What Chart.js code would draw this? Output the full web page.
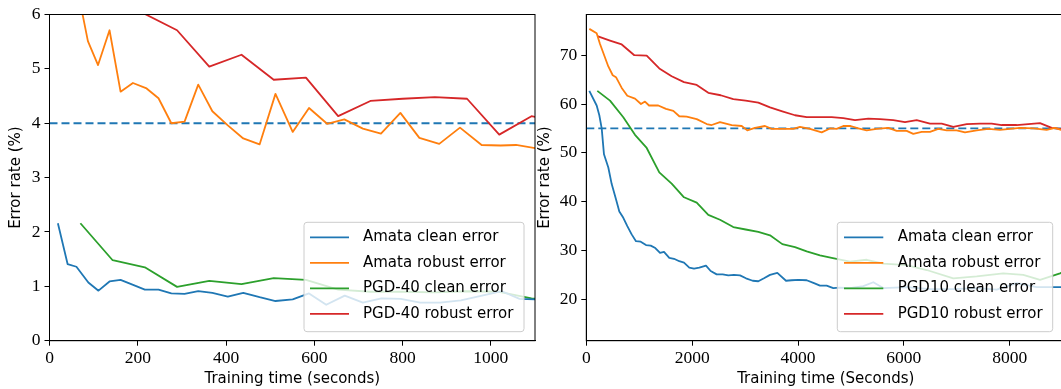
<!DOCTYPE html>
<html>
<head>
<meta charset="utf-8">
<script src="https://cdn.jsdelivr.net/npm/chart.js@4.4.1/dist/chart.umd.min.js"></script>
<style>
  html, body { margin: 0; padding: 0; background: #fff; }
  body { width: 1061px; height: 389px; overflow: hidden; position: relative; }
  canvas { position: absolute; top: 0; }
  #left { left: 0; }
  #right { left: 530px; }
</style>
</head>
<body>
<canvas id="left" width="545" height="389"></canvas>
<canvas id="right" width="560" height="389"></canvas>
<script>
// ---- left panel: training time (s) vs error rate (%) ----
const leftAmataCleanT = [19, 41, 61, 88, 111, 136, 161, 188, 216, 247, 276, 306, 337, 369, 404, 439, 476, 512, 551, 588, 627, 669, 710, 752, 796, 840, 885, 932, 980, 1025, 1065, 1102];
const leftAmataCleanErr = [2.16, 1.41, 1.36, 1.07, 0.92, 1.09, 1.12, 1.03, 0.94, 0.94, 0.87, 0.86, 0.91, 0.88, 0.81, 0.88, 0.80, 0.73, 0.76, 0.87, 0.66, 0.83, 0.70, 0.78, 0.77, 0.70, 0.70, 0.74, 0.83, 0.91, 0.77, 0.76];

const leftAmataRobustT = [19, 41, 61, 87, 110, 136, 161, 189, 220, 247, 276, 306, 337, 369, 404, 439, 476, 512, 551, 588, 629, 668, 710, 751, 795, 838, 883, 930, 979, 1022, 1057, 1102];
const leftAmataRobustErr = [9.0, 7.6, 6.57, 5.51, 5.07, 5.71, 4.58, 4.74, 4.64, 4.46, 4.0, 4.03, 4.71, 4.22, 3.96, 3.72, 3.61, 4.54, 3.84, 4.28, 3.99, 4.07, 3.90, 3.81, 4.19, 3.73, 3.62, 3.92, 3.60, 3.59, 3.60, 3.54];

const leftPgdT = [70, 143, 216, 289, 362, 435, 508, 581, 654, 727, 800, 873, 946, 1019, 1092, 1165];
const leftPgdCleanErr = [2.16, 1.48, 1.35, 0.99, 1.10, 1.04, 1.15, 1.12, 0.94, 0.90, 0.90, 0.89, 0.91, 0.90, 0.78, 0.72];
const leftPgdRobustErr = [8.0, 6.7, 6.01, 5.71, 5.04, 5.26, 4.80, 4.84, 4.13, 4.41, 4.45, 4.48, 4.45, 3.79, 4.13, 4.0];

const leftTarget = 4;
const leftXRange = [0, 1100];
const leftYRange = [0, 6];
const leftXTicks = [0, 200, 400, 600, 800, 1000];
const leftYTicks = [0, 1, 2, 3, 4, 5, 6];
const leftLabels = ['Amata clean error', 'Amata robust error', 'PGD-40 clean error', 'PGD-40 robust error'];

// ---- right panel ----
const rightAmataCleanT = [57, 196, 246, 291, 334, 416, 480, 561, 624, 699, 775, 857, 939, 1028, 1128, 1217, 1304, 1393, 1468, 1568, 1657, 1757, 1846, 1946, 2035, 2135, 2261, 2350, 2463, 2577, 2683, 2790, 2904, 3017, 3144, 3250, 3357, 3471, 3609, 3773, 3880, 4005, 4164, 4302, 4415, 4541, 4667, 4780, 4982, 5234, 5422, 5611, 6053, 6494, 6934, 7376, 7754, 8131, 8509, 8950, 9100];
const rightAmataCleanErr = [62.7, 59.7, 57.7, 55.0, 49.7, 47.0, 43.6, 40.5, 38.0, 36.7, 35.0, 33.3, 31.9, 31.8, 31.1, 31.0, 30.5, 29.5, 29.7, 28.5, 28.3, 27.8, 27.5, 26.5, 26.3, 26.5, 26.9, 25.8, 25.1, 25.1, 24.9, 25.0, 24.9, 24.3, 23.8, 23.7, 24.3, 25.0, 25.4, 23.8, 23.9, 24.0, 23.9, 23.3, 22.8, 22.8, 22.3, 22.4, 22.3, 22.7, 23.5, 22.3, 22.5, 22.1, 22.1, 22.3, 22.0, 23.3, 22.5, 22.5, 22.4];

const rightAmataRobustT = [57, 196, 259, 416, 499, 561, 669, 775, 920, 1033, 1109, 1185, 1360, 1506, 1644, 1757, 1897, 2086, 2275, 2369, 2526, 2747, 2936, 3042, 3187, 3376, 3502, 3722, 3911, 4037, 4226, 4447, 4604, 4730, 4856, 4995, 5139, 5297, 5486, 5706, 5864, 6053, 6178, 6337, 6494, 6650, 6809, 6998, 7155, 7376, 7595, 7816, 8005, 8194, 8446, 8698, 8855, 8969, 9100];
const rightAmataRobustErr = [75.4, 74.5, 72.3, 67.7, 65.9, 65.5, 63.3, 61.7, 61.1, 60.0, 60.5, 59.7, 59.7, 59.0, 58.6, 57.5, 57.4, 56.9, 55.9, 55.7, 56.3, 55.7, 55.5, 54.6, 55.1, 55.5, 54.9, 54.9, 54.9, 55.3, 54.9, 54.2, 55.0, 54.9, 55.5, 55.5, 55.0, 54.6, 54.9, 55.1, 54.5, 54.5, 53.9, 54.3, 54.3, 54.9, 54.6, 54.6, 54.2, 54.6, 54.9, 54.7, 54.9, 55.1, 55.0, 54.7, 55.1, 54.7, 54.5];

const rightPgdCleanT = [208, 448, 699, 920, 1141, 1379, 1613, 1846, 2086, 2305, 2526, 2777, 3011, 3250, 3471, 3703, 3943, 4164, 4415, 4636, 4982, 5297, 5611, 6053, 6431, 6934, 7376, 7878, 8256, 8572, 8950, 9100];
const rightPgdCleanErr = [62.7, 60.7, 57.3, 53.7, 51.0, 46.0, 43.7, 40.9, 39.8, 37.3, 36.3, 34.8, 34.3, 33.8, 33.1, 31.3, 30.7, 29.8, 29.0, 28.5, 27.7, 28.1, 27.3, 27.0, 26.0, 24.3, 24.7, 25.3, 25.0, 24.0, 25.3, 26.0];

const rightPgdRobustT = [208, 448, 669, 907, 1141, 1379, 1613, 1846, 2086, 2305, 2539, 2777, 3011, 3250, 3471, 3703, 3943, 4164, 4400, 4636, 4856, 5077, 5328, 5549, 5800, 6021, 6242, 6494, 6715, 6934, 7187, 7438, 7659, 7848, 8131, 8351, 8572, 8793, 9030];
const rightPgdRobustErr = [73.9, 73.0, 72.2, 70.0, 69.9, 67.3, 65.7, 64.5, 63.9, 62.3, 61.8, 61.0, 60.7, 60.3, 59.3, 58.5, 57.7, 57.3, 57.3, 57.3, 57.1, 56.7, 57.0, 56.9, 56.7, 56.3, 56.7, 56.0, 56.0, 55.3, 55.9, 56.0, 56.0, 55.7, 55.7, 55.9, 56.1, 55.1, 54.8];

const rightTarget = 55;
const rightXRange = [0, 9050];
const rightYRange = [11.52, 78.34];
const rightXTicks = [0, 2000, 4000, 6000, 8000];
const rightYTicks = [20, 30, 40, 50, 60, 70];
const rightLabels = ['Amata clean error', 'Amata robust error', 'PGD10 clean error', 'PGD10 robust error'];

const COLORS = ['#1f77b4', '#ff7f0e', '#2ca02c', '#d62728'];
const tickFont = { family: '"Liberation Serif", "DejaVu Serif", serif', size: 17.5 };
const labelFont = { family: '"DejaVu Sans", sans-serif', size: 15 };

function pairs(xs, ys) {
    return xs.map((x, i) => ({ x: x, y: ys[i] }));
}

function lineSet(label, color, xs, ys) {
    return {
        label: label,
        data: pairs(xs, ys),
        borderColor: color,
        borderWidth: 1.8,
        pointRadius: 0,
        tension: 0,
        borderJoinStyle: 'round'
    };
}

// matplotlib style frame + lower-right legend
const framePlugin = {
    id: 'frame',
    afterDraw(chart, args, opts) {
        const ctx = chart.ctx;
        const a = chart.chartArea;
        ctx.save();
        ctx.strokeStyle = '#000';
        ctx.lineWidth = 1;
        ctx.strokeRect(a.left, a.top, a.right - a.left, a.bottom - a.top);

        // legend box
        const b = opts.box;
        ctx.beginPath();
        ctx.roundRect(b.x, b.y, b.w, b.h, 3);
        ctx.fillStyle = 'rgba(255,255,255,0.8)';
        ctx.fill();
        ctx.strokeStyle = '#cccccc';
        ctx.stroke();

        ctx.font = labelFont.size + 'px ' + labelFont.family;
        ctx.textBaseline = 'middle';
        ctx.textAlign = 'left';
        const items = chart.data.datasets.filter(d => d.label);
        items.forEach((d, i) => {
            const y = b.y + opts.firstRow + i * opts.rowGap;
            ctx.beginPath();
            ctx.moveTo(opts.handle[0], y);
            ctx.lineTo(opts.handle[1], y);
            ctx.strokeStyle = d.borderColor;
            ctx.lineWidth = 1.8;
            ctx.stroke();
            ctx.fillStyle = '#000';
            ctx.fillText(d.label, opts.textX, y);
        });
        ctx.restore();
    }
};

function fixedTicks(values) {
    return function(scale) {
        scale.ticks = values.map(v => ({ value: v }));
    };
}

function makeChart(id, cfg) {
    const ctx = document.getElementById(id).getContext('2d');
    return new Chart(ctx, {
        type: 'line',
        data: {
            datasets: [
                lineSet(cfg.labels[0], COLORS[0], cfg.series[0][0], cfg.series[0][1]),
                lineSet(cfg.labels[1], COLORS[1], cfg.series[1][0], cfg.series[1][1]),
                lineSet(cfg.labels[2], COLORS[2], cfg.series[2][0], cfg.series[2][1]),
                lineSet(cfg.labels[3], COLORS[3], cfg.series[3][0], cfg.series[3][1]),
                {
                    label: '',
                    data: pairs(cfg.xRange, [cfg.target, cfg.target]),
                    borderColor: COLORS[0],
                    borderWidth: 1.8,
                    borderDash: [8, 4],
                    pointRadius: 0
                }
            ]
        },
        options: {
            responsive: false,
            animation: false,
            devicePixelRatio: 1,
            layout: { padding: cfg.padding },
            plugins: {
                legend: { display: false },
                tooltip: { enabled: false },
                frame: cfg.legend
            },
            scales: {
                x: {
                    type: 'linear',
                    min: cfg.xRange[0],
                    max: cfg.xRange[1],
                    afterBuildTicks: fixedTicks(cfg.xTicks),
                    ticks: {
                        maxRotation: 0,
                        autoSkip: false,
                        color: '#000',
                        font: tickFont,
                        padding: 2,
                        callback: v => String(v)
                    },
                    grid: { drawOnChartArea: false, drawTicks: true, tickLength: 5, color: '#000' },
                    border: { color: '#000', width: 1 },
                    title: {
                        display: true,
                        text: cfg.xTitle,
                        color: '#000',
                        font: labelFont,
                        padding: { top: 0, bottom: 1 }
                    },
                    afterFit(scale) { scale.height = cfg.xAxisHeight; }
                },
                y: {
                    min: cfg.yRange[0],
                    max: cfg.yRange[1],
                    afterBuildTicks: fixedTicks(cfg.yTicks),
                    ticks: {
                        color: '#000',
                        font: tickFont,
                        padding: 4,
                        callback: v => String(v)
                    },
                    grid: { drawOnChartArea: false, drawTicks: true, tickLength: 5, color: '#000' },
                    border: { color: '#000', width: 1 },
                    title: {
                        display: true,
                        text: 'Error rate (%)',
                        color: '#000',
                        font: labelFont,
                        padding: { top: cfg.yTitlePad, bottom: 0 }
                    },
                    afterFit(scale) { scale.width = cfg.yAxisWidth; }
                }
            }
        },
        plugins: [framePlugin]
    });
}

makeChart('left', {
    labels: leftLabels,
    series: [
        [leftAmataCleanT, leftAmataCleanErr],
        [leftAmataRobustT, leftAmataRobustErr],
        [leftPgdT, leftPgdCleanErr],
        [leftPgdT, leftPgdRobustErr]
    ],
    target: leftTarget,
    xRange: leftXRange,
    yRange: leftYRange,
    xTicks: leftXTicks,
    yTicks: leftYTicks,
    xTitle: 'Training time (seconds)',
    padding: { left: 0, right: 10, top: 10.7, bottom: 0 },
    yAxisWidth: 49.5,
    xAxisHeight: 48.3,
    yTitlePad: 7,
    legend: { box: { x: 304, y: 222.3, w: 220, h: 109.4 }, handle: [310, 349], textX: 363, firstRow: 15, rowGap: 25.5 }
});

makeChart('right', {
    labels: rightLabels,
    series: [
        [rightAmataCleanT, rightAmataCleanErr],
        [rightAmataRobustT, rightAmataRobustErr],
        [rightPgdCleanT, rightPgdCleanErr],
        [rightPgdRobustT, rightPgdRobustErr]
    ],
    target: rightTarget,
    xRange: rightXRange,
    yRange: rightYRange,
    xTicks: rightXTicks,
    yTicks: rightYTicks,
    xTitle: 'Training time (Seconds)',
    padding: { left: 0, right: 24.7, top: 6, bottom: 0 },
    yAxisWidth: 56.3,
    xAxisHeight: 48.3,
    yTitlePad: 6,
    legend: { box: { x: 307.3, y: 222.3, w: 215.4, h: 109.4 }, handle: [314, 353.3], textX: 367.7, firstRow: 15, rowGap: 25.5 }
});
</script>
</body>
</html>
